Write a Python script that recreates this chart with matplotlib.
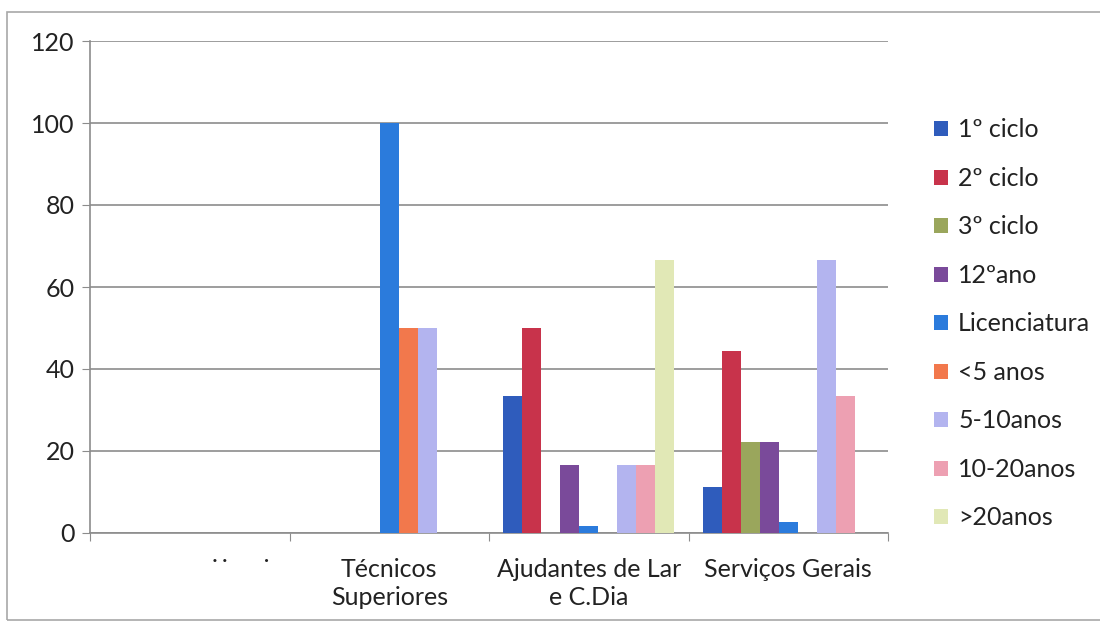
import matplotlib
matplotlib.use('Agg')
import matplotlib.pyplot as plt
import numpy as np

categories = ['                ˙˙     ˙', 'Técnicos\nSuperiores', 'Ajudantes de Lar\ne C.Dia', 'Serviços Gerais']
series = ['1º ciclo', '2º ciclo', '3º ciclo', '12ºano', 'Licenciatura',
          '<5 anos', '5-10anos', '10-20anos', '>20anos']
values = {
	'1º ciclo':     [0, 0, 33.3, 11.1],
	'2º ciclo':     [0, 0, 50.0, 44.4],
	'3º ciclo':     [0, 0, 0, 22.2],
	'12ºano':       [0, 0, 16.7, 22.2],
	'Licenciatura': [0, 100, 1.6, 2.7],
	'<5 anos':      [0, 50.0, 0, 0],
	'5-10anos':     [0, 50.0, 16.7, 66.7],
	'10-20anos':    [0, 0, 16.7, 33.3],
	'>20anos':      [0, 0, 66.7, 0],
}
colors = ['#2f5cbc', '#c8334b', '#9aa65c', '#7a4a9a', '#2b7bdc',
          '#f2784c', '#b3b4ef', '#eda0b2', '#e1e8b6']

plt.rcParams['font.family'] = ['Lato', 'DejaVu Sans']

fig = plt.figure(figsize=(11, 6.26), dpi=100)
ax = fig.add_axes([90/1100, 1-533/626, 798/1100, 492/626])

# outer chart frame
fig.patches.append(plt.Rectangle((7/1100, 1-620/626), 1.1, (620-12)/626,
	transform=fig.transFigure, fill=False, edgecolor='#a8a8a8', lw=1.2))

n = len(series)
w = 1/10.5
x = np.arange(len(categories))
for i, name in enumerate(series):
	pos = x + 0.5*1.5*w + (i+0.5)*w - 0.5
	ax.bar(pos, values[name], width=w, color=colors[i], label=name, zorder=3)

ax.set_xlim(-0.5, len(categories)-0.5)
ax.set_ylim(0, 120)
ax.set_yticks(range(0, 121, 20))
ax.yaxis.grid(True, color='#8c8c8c', lw=1.2, zorder=0)
ax.tick_params(axis='y', labelsize=18, length=6, color='#8c8c8c', pad=5, labelcolor='#222222')

ax.set_xticks(np.arange(len(categories)+1)-0.5, minor=False)
ax.set_xticklabels([])
ax.tick_params(axis='x', length=6, color='#8c8c8c')
for xi, lab in zip(x, categories):
	ax.text(xi, -6.2, lab, ha='center', va='top', fontsize=18, color='#222222',
		linespacing=1.25)

for s in ['top', 'right']:
	ax.spines[s].set_visible(False)
for s in ['left', 'bottom']:
	ax.spines[s].set_color('#8c8c8c')
	ax.spines[s].set_linewidth(1.2)

leg = ax.legend(loc='center left', bbox_to_anchor=(1.03, 0.425), frameon=False,
	fontsize=18, handlelength=0.55, handleheight=0.55, handletextpad=0.4,
	labelspacing=1.02, labelcolor='#222222')

fig.savefig('out.png', dpi=100)
